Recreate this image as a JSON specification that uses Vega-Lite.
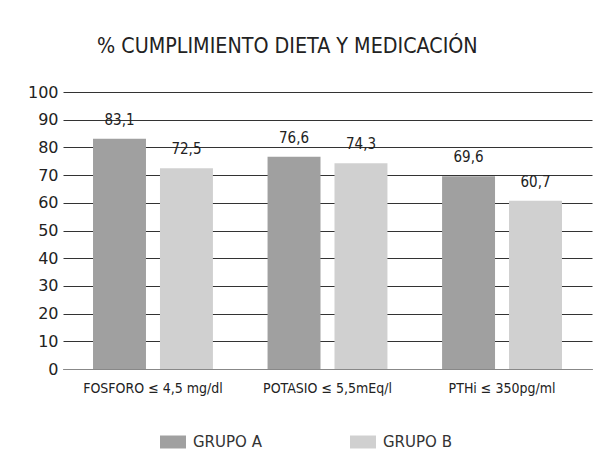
{
  "$schema": "https://vega.github.io/schema/vega-lite/v6.json",
  "autosize": "none",
  "width": 529,
  "height": 277,
  "padding": {"left": 63, "top": 92, "right": 20, "bottom": 92},
  "background": "white",
  "config": {
    "locale": {"number": {"decimal": ",", "thousands": ".", "grouping": [3], "currency": ["", " €"]}},
    "view": {"stroke": null}
  },
  "title": {
    "text": "% CUMPLIMIENTO DIETA Y MEDICACIÓN",
    "font": "DejaVu Sans Condensed",
    "fontSize": 21.3,
    "fontWeight": "normal",
    "color": "#222222",
    "anchor": "start",
    "frame": "group",
    "dx": 34,
    "offset": 27
  },
  "data": {
    "values": [
      {"categoria": "FOSFORO ≤ 4,5 mg/dl", "grupo": "GRUPO A", "valor": 83.1},
      {"categoria": "FOSFORO ≤ 4,5 mg/dl", "grupo": "GRUPO B", "valor": 72.5},
      {"categoria": "POTASIO ≤ 5,5mEq/l", "grupo": "GRUPO A", "valor": 76.6},
      {"categoria": "POTASIO ≤ 5,5mEq/l", "grupo": "GRUPO B", "valor": 74.3},
      {"categoria": "PTHi ≤ 350pg/ml", "grupo": "GRUPO A", "valor": 69.6},
      {"categoria": "PTHi ≤ 350pg/ml", "grupo": "GRUPO B", "valor": 60.7}
    ]
  },
  "encoding": {
    "x": {
      "field": "categoria",
      "type": "nominal",
      "sort": null,
      "scale": {"paddingInner": 0.313, "paddingOuter": 0.172},
      "axis": {
        "title": null,
        "labelAngle": 0,
        "labelFont": "DejaVu Sans Condensed",
        "labelFontSize": 14,
        "labelColor": "#222222",
        "labelPadding": 12,
        "ticks": false,
        "domainColor": "#888888",
        "domainWidth": 1
      }
    },
    "xOffset": {
      "field": "grupo",
      "type": "nominal",
      "scale": {"paddingInner": 0.209, "paddingOuter": 0}
    },
    "y": {
      "field": "valor",
      "type": "quantitative",
      "scale": {"domain": [0, 100]},
      "axis": {
        "title": null,
        "values": [0, 10, 20, 30, 40, 50, 60, 70, 80, 90, 100],
        "labelFont": "DejaVu Sans",
        "labelFontSize": 16,
        "labelColor": "#222222",
        "labelPadding": 5,
        "ticks": false,
        "domain": false,
        "gridColor": "#333333",
        "gridWidth": 1,
        "gridOpacity": 1
      }
    }
  },
  "layer": [
    {
      "mark": {"type": "bar"},
      "encoding": {
        "color": {
          "field": "grupo",
          "type": "nominal",
          "scale": {"domain": ["GRUPO A", "GRUPO B"], "range": ["#a0a0a0", "#d0d0d0"]},
          "legend": {
            "title": null,
            "orient": "none",
            "direction": "horizontal",
            "legendX": 97,
            "legendY": 337,
            "symbolType": "M-1,-0.5H1V0.5H-1Z",
            "symbolSize": 676,
            "symbolStrokeWidth": 0,
            "labelFont": "DejaVu Sans",
            "labelFontSize": 15,
            "labelColor": "#333333",
            "labelOffset": 7,
            "columnPadding": 88
          }
        }
      }
    },
    {
      "mark": {
        "type": "text",
        "baseline": "alphabetic",
        "dy": -14,
        "font": "DejaVu Sans Condensed",
        "fontSize": 15,
        "color": "#222222"
      },
      "encoding": {
        "text": {"field": "valor", "type": "quantitative", "format": ".1f"}
      }
    }
  ]
}
